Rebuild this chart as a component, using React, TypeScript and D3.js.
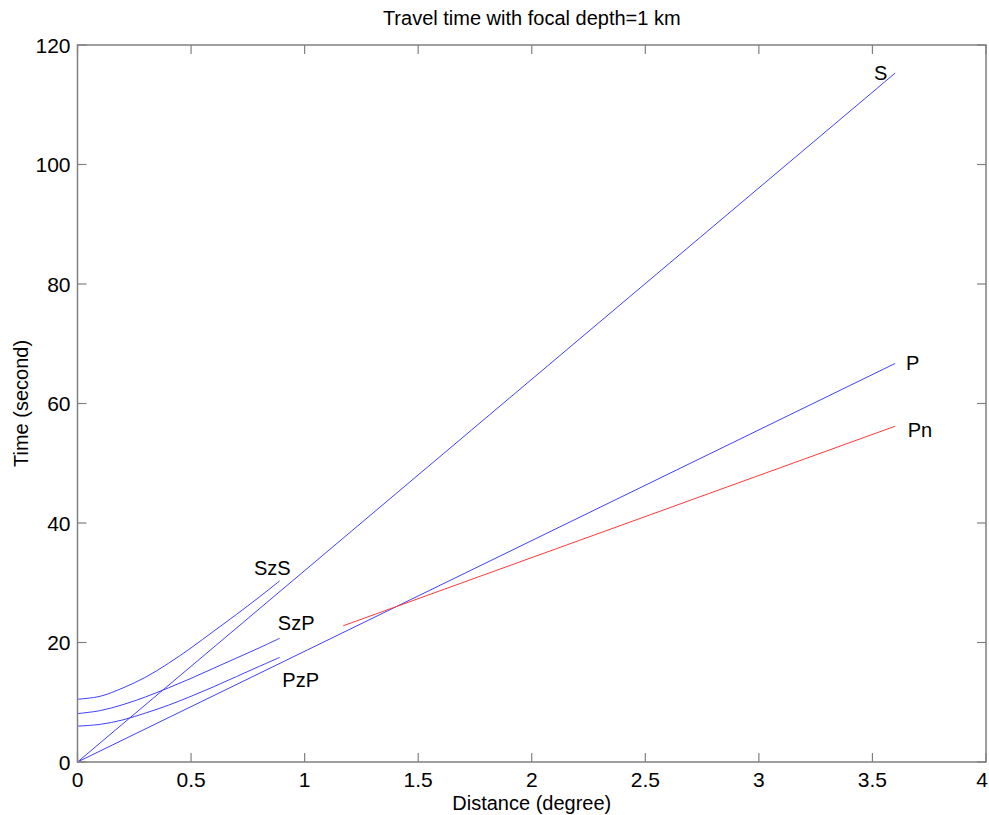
import React from 'react';
import * as d3 from 'd3';

// values (distance in degree, time in second)
const sLine: [number, number][] = [[0, 0], [3.6, 115.3]];
const pLine: [number, number][] = [[0, 0], [3.6, 66.7]];
const pnLine: [number, number][] = [[1.17, 22.8], [3.6, 56.2]];
const szsCurve: [number, number][] = [
  [0, 10.5], [0.1, 11.0], [0.2, 12.4], [0.3, 14.2], [0.4, 16.5],
  [0.5, 19.1], [0.6, 21.9], [0.7, 24.7], [0.8, 27.6], [0.89, 30.3],
];
const szpCurve: [number, number][] = [
  [0, 8.1], [0.1, 8.6], [0.2, 9.6], [0.3, 10.9], [0.4, 12.4],
  [0.5, 14.0], [0.6, 15.7], [0.7, 17.4], [0.8, 19.1], [0.89, 20.7],
];
const pzpCurve: [number, number][] = [
  [0, 6.0], [0.1, 6.3], [0.2, 7.05], [0.3, 8.2], [0.4, 9.5],
  [0.5, 11.0], [0.6, 12.6], [0.7, 14.3], [0.8, 16.0], [0.89, 17.5],
];

const phaseLabels = [
  { text: 'S', x: 3.507, y: 114.1 },
  { text: 'P', x: 3.648, y: 65.6 },
  { text: 'Pn', x: 3.655, y: 54.4 },
  { text: 'SzS', x: 0.777, y: 31.3 },
  { text: 'SzP', x: 0.882, y: 22.1 },
  { text: 'PzP', x: 0.902, y: 12.5 },
];

const xTicks = [0, 0.5, 1, 1.5, 2, 2.5, 3, 3.5, 4];
const yTicks = [0, 20, 40, 60, 80, 100, 120];

const W = 989;
const H = 815;
const margin = { left: 77.5, right: 3, top: 45, bottom: 53 };
const font = 'Liberation Sans, Arial, sans-serif';
const axisColor = '#808080';
const tickLen = 9;

const App = () => {
  const x = d3.scaleLinear().domain([0, 4]).range([margin.left, W - margin.right]);
  const y = d3.scaleLinear().domain([0, 120]).range([H - margin.bottom, margin.top]);

  const straight = d3.line<[number, number]>().x((d) => x(d[0])).y((d) => y(d[1]));
  const smooth = d3
    .line<[number, number]>()
    .x((d) => x(d[0]))
    .y((d) => y(d[1]))
    .curve(d3.curveCatmullRom.alpha(0.5));

  const x0 = x(0);
  const x1 = x(4);
  const y0 = y(0);
  const y1 = y(120);

  return (
    <svg
      width={W}
      height={H}
      style={{ position: 'absolute', left: 0, top: 0, background: '#fff' }}
      fontFamily={font}
    >
      <rect x={0} y={0} width={W} height={H} fill="#fff" />

      {/* curves */}
      <g fill="none" strokeWidth={1}>
        <path d={straight(sLine) || ''} stroke="#4040ff" />
        <path d={straight(pLine) || ''} stroke="#4040ff" />
        <path d={straight(pnLine) || ''} stroke="#ff3a3a" />
        <path d={smooth(szsCurve) || ''} stroke="#4040ff" />
        <path d={smooth(szpCurve) || ''} stroke="#4040ff" />
        <path d={smooth(pzpCurve) || ''} stroke="#4040ff" />
      </g>

      {phaseLabels.map((l, i) => (
        <text key={i} x={x(l.x)} y={y(l.y)} fontSize={20} fill="#000">
          {l.text}
        </text>
      ))}

      {/* axes box */}
      <rect
        x={x0}
        y={y1}
        width={x1 - x0}
        height={y0 - y1}
        fill="none"
        stroke={axisColor}
        strokeWidth={1.5}
      />
      {xTicks.map((t) => (
        <g key={'x' + t}>
          <line x1={x(t)} x2={x(t)} y1={y0} y2={y0 - tickLen} stroke={axisColor} strokeWidth={1.2} />
          <line x1={x(t)} x2={x(t)} y1={y1} y2={y1 + tickLen} stroke={axisColor} strokeWidth={1.2} />
          <text x={Math.min(x(t), W - 7)} y={y0 + 25} fontSize={21} textAnchor="middle" fill="#000">
            {t}
          </text>
        </g>
      ))}
      {yTicks.map((t) => (
        <g key={'y' + t}>
          <line x1={x0} x2={x0 + tickLen} y1={y(t)} y2={y(t)} stroke={axisColor} strokeWidth={1.2} />
          <line x1={x1} x2={x1 - tickLen} y1={y(t)} y2={y(t)} stroke={axisColor} strokeWidth={1.2} />
          <text x={x0 - 7} y={y(t) + 7.5} fontSize={21} textAnchor="end" fill="#000">
            {t}
          </text>
        </g>
      ))}

      <text x={(x0 + x1) / 2} y={25} fontSize={20} textAnchor="middle" fill="#000">
        Travel time with focal depth=1 km
      </text>
      <text x={(x0 + x1) / 2} y={810} fontSize={20} textAnchor="middle" fill="#000">
        Distance (degree)
      </text>
      <text
        transform={`translate(28, ${(y0 + y1) / 2}) rotate(-90)`}
        fontSize={20}
        textAnchor="middle"
        fill="#000"
      >
        Time (second)
      </text>
    </svg>
  );
};

export default App;
